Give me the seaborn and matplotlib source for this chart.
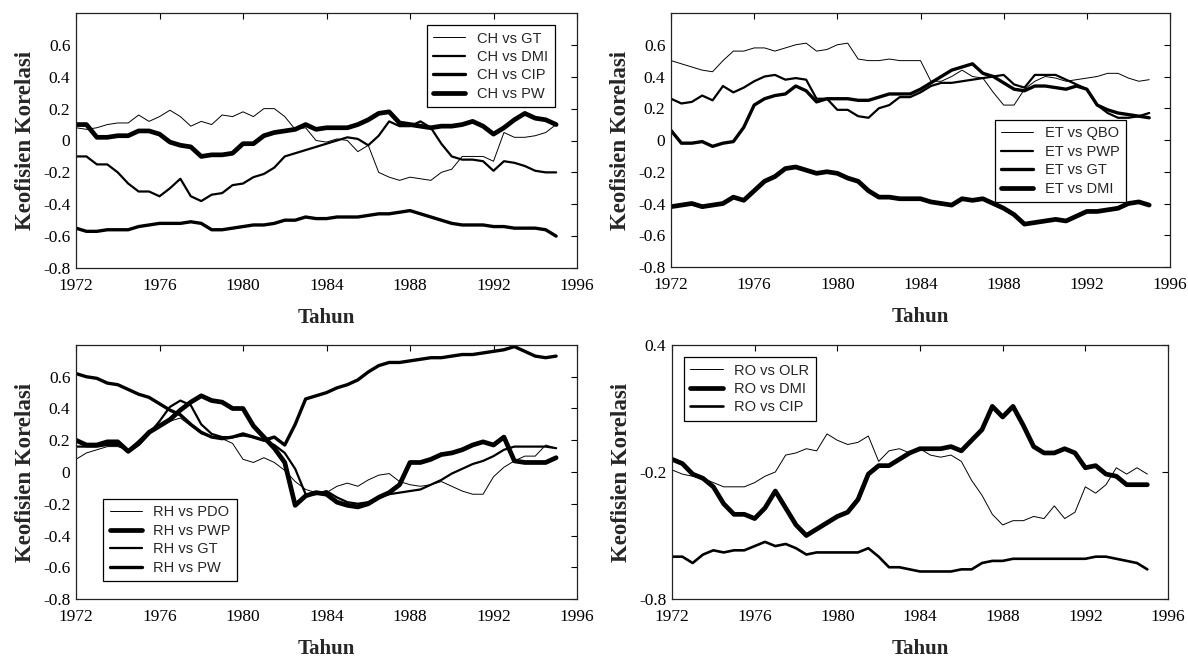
import numpy as np
import pandas as pd
import matplotlib
matplotlib.use("Agg")
import matplotlib.pyplot as plt
import seaborn as sns

# ---------------- data ----------------
years = [1972.0, 1972.5, 1973.0, 1973.5, 1974.0, 1974.5, 1975.0, 1975.5,
         1976.0, 1976.5, 1977.0, 1977.5, 1978.0, 1978.5, 1979.0, 1979.5,
         1980.0, 1980.5, 1981.0, 1981.5, 1982.0, 1982.5, 1983.0, 1983.5,
         1984.0, 1984.5, 1985.0, 1985.5, 1986.0, 1986.5, 1987.0, 1987.5,
         1988.0, 1988.5, 1989.0, 1989.5, 1990.0, 1990.5, 1991.0, 1991.5,
         1992.0, 1992.5, 1993.0, 1993.5, 1994.0, 1994.5, 1995.0]

# Panel 1: CH
ch_gt = [0.08, 0.07, 0.08, 0.10, 0.11, 0.11, 0.16, 0.12, 0.15, 0.19, 0.15, 0.09,
         0.12, 0.10, 0.16, 0.15, 0.18, 0.15, 0.20, 0.20, 0.15, 0.07, 0.08, 0.00,
         -0.01, 0.01, 0.00, -0.07, -0.03, -0.20, -0.23, -0.25, -0.23, -0.24, -0.25, -0.20,
         -0.18, -0.10, -0.10, -0.10, -0.13, 0.05, 0.02, 0.02, 0.03, 0.05, 0.10]
ch_dmi = [-0.10, -0.10, -0.15, -0.15, -0.20, -0.27, -0.32, -0.32, -0.35, -0.30, -0.24, -0.35,
          -0.38, -0.34, -0.33, -0.28, -0.27, -0.23, -0.21, -0.17, -0.10, -0.08, -0.06, -0.04,
          -0.02, 0.00, 0.02, 0.01, -0.03, 0.03, 0.12, 0.09, 0.09, 0.12, 0.08, -0.02,
          -0.10, -0.12, -0.12, -0.13, -0.19, -0.13, -0.14, -0.16, -0.19, -0.20, -0.20]
ch_cip = [-0.55, -0.57, -0.57, -0.56, -0.56, -0.56, -0.54, -0.53, -0.52, -0.52, -0.52, -0.51,
          -0.52, -0.56, -0.56, -0.55, -0.54, -0.53, -0.53, -0.52, -0.50, -0.50, -0.48, -0.49,
          -0.49, -0.48, -0.48, -0.48, -0.47, -0.46, -0.46, -0.45, -0.44, -0.46, -0.48, -0.50,
          -0.52, -0.53, -0.53, -0.53, -0.54, -0.54, -0.55, -0.55, -0.55, -0.56, -0.60]
ch_pw = [0.10, 0.10, 0.02, 0.02, 0.03, 0.03, 0.06, 0.06, 0.04, -0.01, -0.03, -0.04,
         -0.10, -0.09, -0.09, -0.08, -0.02, -0.02, 0.03, 0.05, 0.06, 0.07, 0.10, 0.07,
         0.08, 0.08, 0.08, 0.10, 0.13, 0.17, 0.18, 0.11, 0.10, 0.09, 0.08, 0.09,
         0.09, 0.10, 0.12, 0.09, 0.04, 0.08, 0.13, 0.17, 0.14, 0.13, 0.10]

# Panel 2: ET
et_qbo = [0.50, 0.48, 0.46, 0.44, 0.43, 0.50, 0.56, 0.56, 0.58, 0.58, 0.56, 0.58,
          0.60, 0.61, 0.56, 0.57, 0.60, 0.61, 0.51, 0.50, 0.50, 0.51, 0.50, 0.50,
          0.50, 0.37, 0.37, 0.40, 0.44, 0.40, 0.39, 0.30, 0.22, 0.22, 0.32, 0.37,
          0.40, 0.39, 0.37, 0.38, 0.39, 0.40, 0.42, 0.42, 0.39, 0.37, 0.38]
et_pwp = [0.26, 0.23, 0.24, 0.28, 0.25, 0.34, 0.30, 0.33, 0.37, 0.40, 0.41, 0.38,
          0.39, 0.38, 0.26, 0.26, 0.19, 0.19, 0.15, 0.14, 0.20, 0.22, 0.27, 0.27,
          0.30, 0.34, 0.36, 0.36, 0.37, 0.38, 0.39, 0.40, 0.41, 0.35, 0.33, 0.41,
          0.41, 0.41, 0.38, 0.35, 0.32, 0.22, 0.17, 0.14, 0.14, 0.15, 0.17]
et_gt = [0.06, -0.02, -0.02, -0.01, -0.04, -0.02, -0.01, 0.08, 0.22, 0.26, 0.28, 0.29,
         0.34, 0.31, 0.24, 0.26, 0.26, 0.26, 0.25, 0.25, 0.27, 0.29, 0.29, 0.29,
         0.32, 0.36, 0.40, 0.44, 0.46, 0.48, 0.42, 0.40, 0.36, 0.32, 0.31, 0.34,
         0.34, 0.33, 0.32, 0.34, 0.32, 0.22, 0.19, 0.17, 0.16, 0.15, 0.14]
et_dmi = [-0.42, -0.41, -0.40, -0.42, -0.41, -0.40, -0.36, -0.38, -0.32, -0.26, -0.23, -0.18,
          -0.17, -0.19, -0.21, -0.20, -0.21, -0.24, -0.26, -0.32, -0.36, -0.36, -0.37, -0.37,
          -0.37, -0.39, -0.40, -0.41, -0.37, -0.38, -0.37, -0.40, -0.43, -0.47, -0.53, -0.52,
          -0.51, -0.50, -0.51, -0.48, -0.45, -0.45, -0.44, -0.43, -0.40, -0.39, -0.41]

# Panel 3: RH
rh_pdo = [0.08, 0.12, 0.14, 0.16, 0.16, 0.14, 0.20, 0.26, 0.30, 0.32, 0.34, 0.29,
          0.24, 0.22, 0.21, 0.18, 0.08, 0.06, 0.09, 0.06, 0.01, -0.06, -0.11, -0.13,
          -0.13, -0.09, -0.07, -0.09, -0.05, -0.02, -0.01, -0.06, -0.08, -0.09, -0.08, -0.06,
          -0.09, -0.12, -0.14, -0.14, -0.03, 0.03, 0.07, 0.10, 0.10, 0.17, 0.15]
rh_pwp = [0.20, 0.17, 0.17, 0.19, 0.19, 0.13, 0.18, 0.25, 0.29, 0.33, 0.39, 0.44,
          0.48, 0.45, 0.44, 0.40, 0.40, 0.29, 0.22, 0.15, 0.06, -0.21, -0.15, -0.13,
          -0.14, -0.19, -0.21, -0.22, -0.20, -0.16, -0.13, -0.08, 0.06, 0.06, 0.08, 0.11,
          0.12, 0.14, 0.17, 0.19, 0.17, 0.22, 0.07, 0.06, 0.06, 0.06, 0.09]
rh_gt = [0.16, 0.16, 0.16, 0.17, 0.17, 0.13, 0.17, 0.24, 0.32, 0.41, 0.45, 0.42,
         0.30, 0.24, 0.22, 0.22, 0.23, 0.22, 0.20, 0.17, 0.12, 0.02, -0.14, -0.14,
         -0.12, -0.16, -0.19, -0.20, -0.19, -0.16, -0.14, -0.13, -0.12, -0.11, -0.08, -0.05,
         -0.01, 0.02, 0.05, 0.07, 0.10, 0.14, 0.16, 0.16, 0.16, 0.16, 0.15]
rh_pw = [0.62, 0.60, 0.59, 0.56, 0.55, 0.52, 0.49, 0.47, 0.43, 0.39, 0.36, 0.30,
         0.25, 0.22, 0.21, 0.22, 0.24, 0.22, 0.20, 0.22, 0.17, 0.30, 0.46, 0.48,
         0.50, 0.53, 0.55, 0.58, 0.63, 0.67, 0.69, 0.69, 0.70, 0.71, 0.72, 0.72,
         0.73, 0.74, 0.74, 0.75, 0.76, 0.77, 0.79, 0.76, 0.73, 0.72, 0.73]

# Panel 4: RO
ro_olr = [-0.19, -0.21, -0.22, -0.23, -0.25, -0.27, -0.27, -0.27, -0.25, -0.22, -0.20, -0.12,
          -0.11, -0.09, -0.10, -0.02, -0.05, -0.07, -0.06, -0.03, -0.15, -0.10, -0.09, -0.11,
          -0.09, -0.12, -0.13, -0.12, -0.15, -0.24, -0.31, -0.40, -0.45, -0.43, -0.43, -0.41,
          -0.42, -0.36, -0.42, -0.39, -0.27, -0.30, -0.26, -0.18, -0.21, -0.18, -0.21]
ro_dmi = [-0.14, -0.16, -0.21, -0.23, -0.27, -0.35, -0.40, -0.40, -0.42, -0.37, -0.29, -0.37,
          -0.45, -0.50, -0.47, -0.44, -0.41, -0.39, -0.33, -0.21, -0.17, -0.17, -0.14, -0.11,
          -0.09, -0.09, -0.09, -0.08, -0.10, -0.05, 0.00, 0.11, 0.06, 0.11, 0.02, -0.08,
          -0.11, -0.11, -0.09, -0.11, -0.18, -0.17, -0.21, -0.22, -0.26, -0.26, -0.26]
ro_cip = [-0.60, -0.60, -0.63, -0.59, -0.57, -0.58, -0.57, -0.57, -0.55, -0.53, -0.55, -0.54,
          -0.56, -0.59, -0.58, -0.58, -0.58, -0.58, -0.58, -0.56, -0.60, -0.65, -0.65, -0.66,
          -0.67, -0.67, -0.67, -0.67, -0.66, -0.66, -0.63, -0.62, -0.62, -0.61, -0.61, -0.61,
          -0.61, -0.61, -0.61, -0.61, -0.61, -0.60, -0.60, -0.61, -0.62, -0.63, -0.66]

x_ticks = [1972, 1976, 1980, 1984, 1988, 1992, 1996]
x_ticklabels = ["1972", "1976", "1980", "1984", "1988", "1992", "1996"]
y_ticks_a = [-0.8, -0.6, -0.4, -0.2, 0.0, 0.2, 0.4, 0.6]
y_ticklabels_a = ["-0.8", "-0.6", "-0.4", "-0.2", "0", "0.2", "0.4", "0.6"]
y_ticks_b = [-0.8, -0.2, 0.4]
y_ticklabels_b = ["-0.8", "-0.2", "0.4"]

xlabel = "Tahun"
ylabel = "Keofisien Korelasi"

# ---------------- style ----------------
sns.set_style("white")
plt.rcParams["font.family"] = ["Liberation Serif", "DejaVu Serif"]

fig = plt.figure(figsize=(11.88, 6.58), dpi=100)
W, H = 1188.0, 658.0

def make_ax(x0, y0, x1, y1):
    return fig.add_axes([x0 / W, 1 - y1 / H, (x1 - x0) / W, (y1 - y0) / H])

panels = [
    dict(box=(76, 13, 577, 268),
         series=[("CH vs GT", ch_gt, 0.7), ("CH vs DMI", ch_dmi, 1.6),
                 ("CH vs CIP", ch_cip, 2.4), ("CH vs PW", ch_pw, 3.4)],
         ylim=(-0.8, 0.8), yt=(y_ticks_a, y_ticklabels_a), leg=(0.70, 0.953)),
    dict(box=(671, 13, 1170, 267),
         series=[("ET vs QBO", et_qbo, 0.7), ("ET vs PWP", et_pwp, 1.6),
                 ("ET vs GT", et_gt, 2.4), ("ET vs DMI", et_dmi, 3.4)],
         ylim=(-0.8, 0.8), yt=(y_ticks_a, y_ticklabels_a), leg=(0.649, 0.579)),
    dict(box=(76, 345, 577, 599),
         series=[("RH vs PDO", rh_pdo, 0.7), ("RH vs PWP", rh_pwp, 3.4),
                 ("RH vs GT", rh_gt, 1.6), ("RH vs PW", rh_pw, 2.4)],
         ylim=(-0.8, 0.8), yt=(y_ticks_a, y_ticklabels_a), leg=(0.054, 0.394)),
    dict(box=(672, 345, 1168, 599),
         series=[("RO vs OLR", ro_olr, 0.7), ("RO vs DMI", ro_dmi, 3.4),
                 ("RO vs CIP", ro_cip, 1.9)],
         ylim=(-0.8, 0.4), yt=(y_ticks_b, y_ticklabels_b), leg=(0.024, 0.953)),
]

for p in panels:
    ax = make_ax(*p["box"])
    for name, vals, lw in p["series"]:
        sns.lineplot(x=years, y=vals, ax=ax, color="black", linewidth=lw,
                     label=name, estimator=None, sort=False)
    ax.set_xlim(1972, 1996)
    ax.set_ylim(*p["ylim"])
    ax.set_xticks(x_ticks)
    ax.set_xticklabels(x_ticklabels)
    ax.set_yticks(p["yt"][0])
    ax.set_yticklabels(p["yt"][1])
    ax.tick_params(direction="in", length=4, width=0.8, top=True, right=True,
                   labelsize=12.5, colors="black", pad=4)
    ax.tick_params(axis="x", pad=7)
    for s in ax.spines.values():
        s.set_visible(True)
        s.set_color("#222222")
        s.set_linewidth(0.9)
    ax.set_xlabel(xlabel, fontsize=15, fontweight="bold", labelpad=10)
    ax.set_ylabel(ylabel, fontsize=16.5, fontweight="bold", labelpad=5)
    leg = ax.legend(loc="upper left", bbox_to_anchor=p["leg"], borderaxespad=0,
                    frameon=True, fancybox=False, framealpha=1, edgecolor="black",
                    prop={"family": ["Liberation Sans", "DejaVu Sans"], "size": 10.5},
                    handlelength=2.2, handletextpad=0.8, labelspacing=0.3,
                    borderpad=0.45)
    leg.get_frame().set_linewidth(0.9)

fig.savefig("out.png", dpi=100)
